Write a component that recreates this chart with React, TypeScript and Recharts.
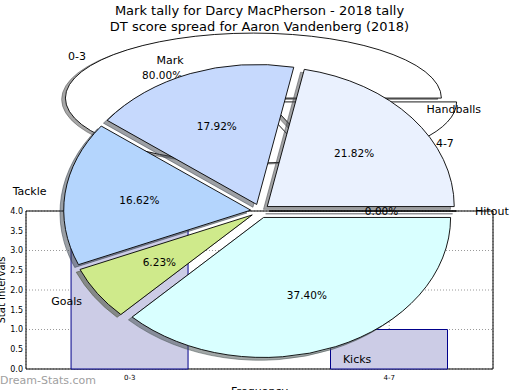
import { BarChart, Bar, XAxis, YAxis, CartesianGrid, ReferenceArea, PieChart, Pie } from "recharts";

// histogram: mark tally per interval
const tallyBins = ["0-3", "4-7"];
const tallyCounts = [4, 1];
const yTicks = [0, 0.5, 1, 1.5, 2, 2.5, 3, 3.5, 4];

// DT score spread
const statNames = ["Hitout", "Handballs", "Mark", "Tackle", "Goals", "Kicks"];
const statShares = [0.0, 21.82, 17.92, 16.62, 6.23, 37.4];
const statColors = ["#e6e6fa", "#eaf1fe", "#c6d9fd", "#b4d5fd", "#cfea8b", "#d9ffff"];

const tallyColors = ["#ffffff", "#ffffff"];

const FONT = "DejaVu Sans, Verdana, sans-serif";
const RAD = Math.PI / 180;
const EXPLODE = 0.05;

const barData = tallyBins.map((bin, i) => ({ x: i, bin, count: tallyCounts[i] }));
const statData = statNames.map((name, i) => ({ name, value: statShares[i] }));
const tallyPieData = tallyBins.map((name, i) => ({ name, value: tallyCounts[i] }));

function wedgePath(cx: number, cy: number, rx: number, ry: number, a0: number, a1: number) {
  const x0 = cx + rx * Math.cos(a0 * RAD), y0 = cy - ry * Math.sin(a0 * RAD);
  const x1 = cx + rx * Math.cos(a1 * RAD), y1 = cy - ry * Math.sin(a1 * RAD);
  if (Math.abs(a1 - a0) < 1e-6) return `M${cx},${cy}L${x0},${y0}Z`;
  const large = Math.abs(a1 - a0) > 180 ? 1 : 0;
  return `M${cx},${cy}L${x0},${y0}A${rx},${ry} 0 ${large} 0 ${x1},${y1}Z`;
}

function shade(hex: string) {
  const n = parseInt(hex.slice(1), 16);
  const r = Math.round(((n >> 16) & 255) * 0.3), g = Math.round(((n >> 8) & 255) * 0.3), b = Math.round((n & 255) * 0.3);
  return `rgb(${r},${g},${b})`;
}

// elliptical exploded wedge with matplotlib-like shadow
const makeWedge = (rx: number, ry: number, colors: string[]) => (p: any) => {
  const ox = EXPLODE * rx * Math.cos(p.midAngle * RAD);
  const oy = -EXPLODE * ry * Math.sin(p.midAngle * RAD);
  const cx = p.cx + ox, cy = p.cy + oy;
  const c = colors[p.index];
  return (
    <g>
      <path d={wedgePath(cx - 0.02 * rx, cy + 0.02 * ry, rx, ry, p.startAngle, p.endAngle)}
        fill={shade(c)} stroke={shade(c)} fillOpacity={0.5} strokeOpacity={0.5} />
      <path d={wedgePath(cx, cy, rx, ry, p.startAngle, p.endAngle)} fill={c} stroke="#000" strokeWidth={0.9} />
    </g>
  );
};

const makeText = (rx: number, ry: number) => (p: any) => {
  const cos = Math.cos(p.midAngle * RAD), sin = Math.sin(p.midAngle * RAD);
  const nd = 1.1 + EXPLODE, pd = 0.6 + EXPLODE;
  return (
    <g>
      <text x={p.cx + nd * rx * cos} y={p.cy - nd * ry * sin} textAnchor={cos > 0 ? "start" : "end"}
        dominantBaseline="central" fontSize={11} fontFamily={FONT} fill="#000">{p.name}</text>
      <text x={p.cx + pd * rx * cos} y={p.cy - pd * ry * sin} textAnchor="middle"
        dominantBaseline="central" fontSize={10.5} fontFamily={FONT} fill="#000">{(p.percent * 100).toFixed(2)}%</text>
    </g>
  );
};

const layer: React.CSSProperties = { position: "absolute", left: 0, top: 0 };
const noMargin = { top: 0, right: 0, bottom: 0, left: 0 };

export default function App() {
  const smallRx = 188, smallRy = 65;
  const bigRx = 187, bigRy = 140;

  return (
    <div style={{ position: "absolute", left: 0, top: 0, width: 520, height: 390, background: "#fff", overflow: "hidden" }}>
      <div style={layer}>
        <BarChart width={520} height={390} data={barData} margin={{ top: 211, right: 27, bottom: 0, left: 0 }}>
          <XAxis dataKey="x" type="number" domain={[-0.4, 1.4]} ticks={[0, 1]} allowDataOverflow
            tickFormatter={(v: number) => tallyBins[v]} height={21} tickLine={false} tickSize={4} tickMargin={2}
            axisLine={false} tick={{ fontSize: 7, fill: "#000", fontFamily: FONT }}
            label={{
              content: () => (
                <text x={259.5} y={395} textAnchor="middle" fontSize={11} fontFamily={FONT} fill="#000">Frequency</text>
              ),
            }} />
          <YAxis type="number" domain={[0, 4]} ticks={yTicks} width={26} tickLine={false} tickSize={1} tickMargin={2}
            axisLine={false} tickFormatter={(v: number) => v.toFixed(1)}
            tick={{ fontSize: 8, fill: "#000", fontFamily: FONT }}
            label={{
              content: () => (
                <text x={1.5} y={290} transform="rotate(-90 1.5 290)" textAnchor="middle" dominantBaseline="central"
                  fontSize={10} fontFamily={FONT} fill="#000">Stat Intervals</text>
              ),
            }} />
          <Bar dataKey="count" barSize={117} fill="#ccccE6" stroke="#00008b" strokeWidth={1} isAnimationActive={false} />
          <CartesianGrid strokeDasharray="1 2" stroke="#9a9a9a" />
          <ReferenceArea x1={-0.4} x2={1.4} y1={0} y2={4} fill="none" fillOpacity={0} stroke="#000" strokeWidth={1} />
        </BarChart>
      </div>

      <div style={layer}>
        <PieChart width={520} height={390} margin={noMargin}>
          <Pie data={tallyPieData} dataKey="value" nameKey="name" cx={261} cy={100} outerRadius={smallRy}
            startAngle={0} endAngle={360} fill="none" stroke="none" labelLine={false}
            label={makeWedge(smallRx, smallRy, tallyColors)} isAnimationActive={false} />
          <Pie data={tallyPieData} dataKey="value" nameKey="name" cx={261} cy={100} outerRadius={smallRy}
            startAngle={0} endAngle={360} fill="none" stroke="none" labelLine={false}
            label={makeText(smallRx, smallRy)} isAnimationActive={false} />
        </PieChart>
      </div>

      <div style={layer}>
        <PieChart width={520} height={390} margin={noMargin}>
          <Pie data={statData} dataKey="value" nameKey="name" cx={260} cy={211} outerRadius={bigRy}
            startAngle={0} endAngle={360} fill="none" stroke="none" labelLine={false}
            label={makeWedge(bigRx, bigRy, statColors)} isAnimationActive={false} />
          <Pie data={statData} dataKey="value" nameKey="name" cx={260} cy={211} outerRadius={bigRy}
            startAngle={0} endAngle={360} fill="none" stroke="none" labelLine={false}
            label={makeText(bigRx, bigRy)} isAnimationActive={false} />
        </PieChart>
      </div>

      <svg width={520} height={390} style={layer}>
        <text x={259.5} y={15} textAnchor="middle" fontSize={13} fontFamily={FONT} fill="#000">
          Mark tally for Darcy MacPherson - 2018 tally
        </text>
        <text x={259.5} y={31} textAnchor="middle" fontSize={13} fontFamily={FONT} fill="#000">
          DT score spread for Aaron Vandenberg (2018)
        </text>
        <text x={0} y={384} fontSize={11} fontFamily={FONT} fill="#a0a0a0">Dream-Stats.com</text>
      </svg>
    </div>
  );
}
